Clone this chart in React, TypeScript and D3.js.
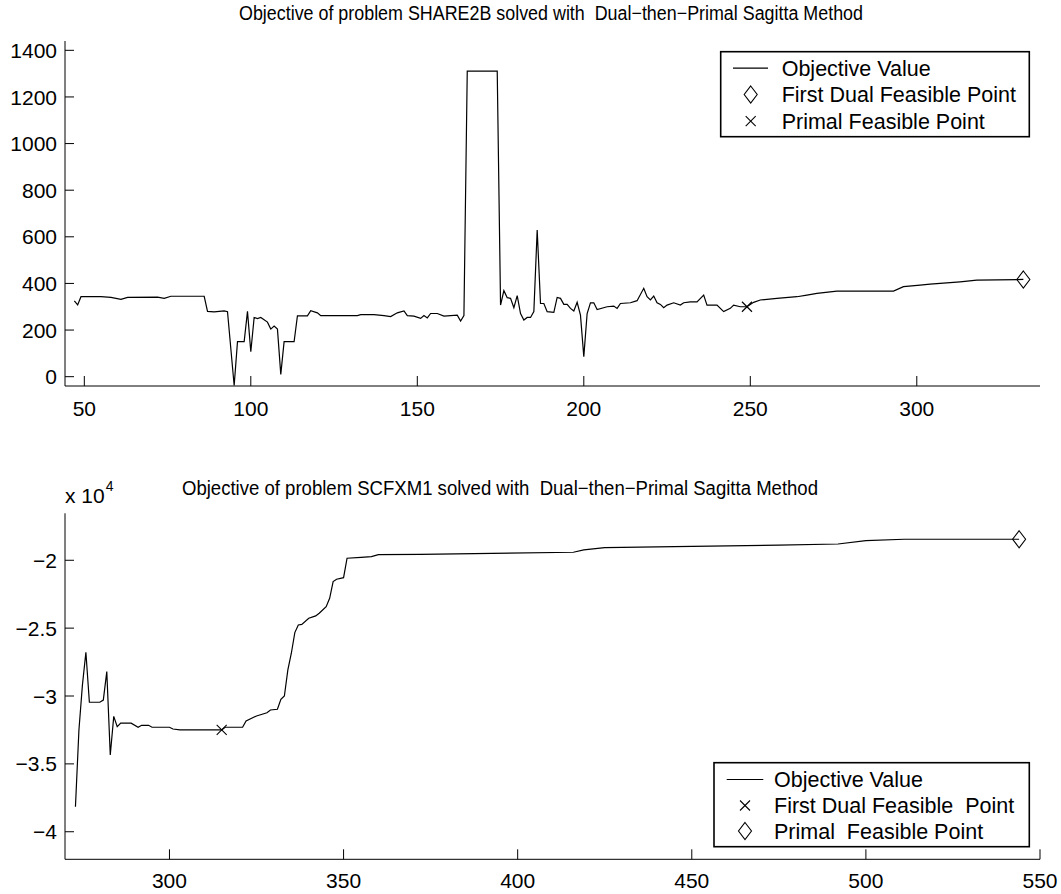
import React from 'react';
import * as d3 from 'd3';

const W = 1061;
const H = 894;
const FONT = '"Liberation Sans", Arial, Helvetica, sans-serif';

// ---------- Top chart: SHARE2B ----------
const topTitle = 'Objective of problem SHARE2B solved with  Dual\u2212then\u2212Primal Sagitta Method';
const topIter = [47,48,49,55,58,61,63,72,74,76,86,87,89,92,93,95,96,98,99,100,101,102,103,105,106,107,108,109,110,113,114,117,118,120,121,132,133,137,140,142,144,146,147,149,151,152,153,154,156,158,162,163,164,165,174,175,176,177,178,179,180,181,182,183,184,185,186,187,188,189,191,192,193,194,195,196,197,198,199,200,201,202,203,204,207,209,210,211,214,216,218,219,220,221,222,223,224,225,227,229,230,232,234,236,237,240,242,244,245,247,249,251,253,258,264,267,270,276,293,296,301,304,313,318,332];
const topValue = [325,308,343,343,340,332,340,341,336,345,345,280,278,282,279,-38,150,150,280,107,254,249,254,234,204,217,204,10,150,150,261,261,283,274,262,262,266,266,262,258,274,282,262,260,250,262,252,271,271,260,264,239,262,1311,1311,307,369,339,336,296,348,271,243,254,254,279,629,314,314,279,276,340,336,310,310,293,282,319,264,86,271,317,317,288,300,303,293,314,317,326,379,343,329,346,317,310,296,307,317,307,317,321,321,350,307,307,279,293,307,300,300,319,329,336,343,350,357,367,367,386,393,397,407,414,417];
const topXTicks = [50, 100, 150, 200, 250, 300];
const topYTicks = [0, 200, 400, 600, 800, 1000, 1200, 1400];
const topXDomain = [44.2, 337];
const topYDomain = [-40, 1440];
const topDualPoint = [332, 417];
const topPrimalPoint = [249, 300];
const topLegendLabels = ['Objective Value', 'First Dual Feasible Point', 'Primal Feasible Point'];

// ---------- Bottom chart: SCFXM1 ----------
const botTitle = 'Objective of problem SCFXM1 solved with  Dual\u2212then\u2212Primal Sagitta Method';
const botIter = [273,274,275,276,277,280,281,282,283,284,285,286,289,291,292,294,295,300,301,303,309,315,316,321,322,325,328,329,331,332,333,334,335,336,337,338,340,342,343,345,346,347,348,350,351,355,358,360,372,416,419,425,445,475,492,500,511,544];
const botValue = [-38160,-32500,-29200,-26780,-30460,-30460,-30300,-28200,-34350,-31500,-32260,-32000,-32000,-32300,-32160,-32160,-32300,-32300,-32430,-32490,-32500,-32500,-32300,-32300,-31840,-31470,-31230,-31030,-30980,-30250,-30000,-28080,-26850,-25330,-24770,-24720,-24270,-24100,-23900,-23420,-22800,-21570,-21400,-21280,-19850,-19780,-19730,-19590,-19560,-19410,-19240,-19070,-19000,-18890,-18800,-18560,-18450,-18450];
const botXTicks = [300, 350, 400, 450, 500, 550];
const botYTicks = [-40000, -35000, -30000, -25000, -20000];
const botXDomain = [270, 550];
const botYDomain = [-42030, -16540];
const botDualPoint = [315, -32500];
const botPrimalPoint = [544, -18450];
const botLegendLabels = ['Objective Value', 'First Dual Feasible  Point', 'Primal  Feasible Point'];

const diamondPath = 'M0,-8.5L6.5,0L0,8.5L-6.5,0Z';

function Diamond({ x, y }: { x: number; y: number }) {
  return <path d={diamondPath} transform={`translate(${x},${y})`} fill="none" stroke="#000" strokeWidth={1.1} />;
}
function XMark({ x, y }: { x: number; y: number }) {
  const s = 5;
  return (
    <g stroke="#000" strokeWidth={1.1}>
      <line x1={x - s} y1={y - s} x2={x + s} y2={y + s} />
      <line x1={x - s} y1={y + s} x2={x + s} y2={y - s} />
    </g>
  );
}

function fmtBot(v: number) {
  return String(v / 1e4).replace('-', '\u2212');
}

type PanelProps = {
  title: string;
  titleX: number;
  titleLen: number;
  iters: number[];
  values: number[];
  xDomain: number[];
  yDomain: number[];
  xTicks: number[];
  yTicks: number[];
  yFmt: (v: number) => string;
  top: number;
  bottom: number;
  titleY: number;
  xLabelY: number;
  children?: React.ReactNode;
  renderMarkers: (x: d3.ScaleLinear<number, number>, y: d3.ScaleLinear<number, number>) => React.ReactNode;
};

const LEFT = 65;
const RIGHT = 1040;

function Panel(p: PanelProps) {
  const x = d3.scaleLinear().domain(p.xDomain).range([LEFT, RIGHT]);
  const y = d3.scaleLinear().domain(p.yDomain).range([p.bottom, p.top]);
  const pts: [number, number][] = p.iters.map((it, i) => [it, p.values[i]]);
  const line = d3.line<[number, number]>().x(d => x(d[0])).y(d => y(d[1]));
  const clipId = `clip${Math.round(p.top)}`;
  return (
    <g>
      <defs>
        <clipPath id={clipId}>
          <rect x={LEFT} y={p.top} width={RIGHT - LEFT} height={p.bottom - p.top} />
        </clipPath>
      </defs>
      <text x={p.titleX - p.titleLen / 2} y={p.titleY} fontSize={20} textLength={p.titleLen} lengthAdjust="spacingAndGlyphs" style={{ whiteSpace: 'pre' }}>{p.title}</text>
      <path d={line(pts) || ''} fill="none" stroke="#000" strokeWidth={1.2} clipPath={`url(#${clipId})`} strokeLinejoin="miter" />
      <line x1={LEFT} y1={p.top} x2={LEFT} y2={p.bottom} stroke="#000" strokeWidth={1} />
      <line x1={LEFT} y1={p.bottom} x2={RIGHT} y2={p.bottom} stroke="#000" strokeWidth={1} />
      {p.xTicks.map(t => (
        <g key={`x${t}`}>
          <line x1={x(t)} x2={x(t)} y1={p.bottom} y2={p.bottom - 10} stroke="#000" strokeWidth={1} />
          <text x={x(t)} y={p.xLabelY} textAnchor="middle" fontSize={21}>{t}</text>
        </g>
      ))}
      {p.yTicks.map(t => (
        <g key={`y${t}`}>
          <line x1={LEFT} x2={LEFT + 9} y1={y(t)} y2={y(t)} stroke="#000" strokeWidth={1} />
          <text x={57} y={y(t)} dy="0.36em" textAnchor="end" fontSize={21}>{p.yFmt(t)}</text>
        </g>
      ))}
      {p.renderMarkers(x, y)}
      {p.children}
    </g>
  );
}

function Legend({ x0, y0, x1, y1, rowY, lineX, markX, textX, labels, markers }: {
  x0: number; y0: number; x1: number; y1: number; rowY: number[]; lineX: number[]; markX: number; textX: number; labels: string[]; markers: string[];
}) {
  return (
    <g>
      <rect x={x0} y={y0} width={x1 - x0} height={y1 - y0} fill="#fff" stroke="#000" strokeWidth={1.6} />
      <line x1={lineX[0]} x2={lineX[1]} y1={rowY[0]} y2={rowY[0]} stroke="#000" strokeWidth={1.2} />
      {markers.map((m, i) => (
        <g key={i}>{m === 'diamond' ? <Diamond x={markX} y={rowY[i + 1]} /> : <XMark x={markX} y={rowY[i + 1]} />}</g>
      ))}
      {labels.map((l, i) => (
        <text key={l} x={textX} y={rowY[i]} dy="0.36em" fontSize={21.5} style={{ whiteSpace: 'pre' }}>{l}</text>
      ))}
    </g>
  );
}

export default function App() {
  return (
    <svg width={W} height={H} viewBox={`0 0 ${W} ${H}`} style={{ position: 'absolute', left: 0, top: 0, background: '#fff' }} fontFamily={FONT}>
      <rect width={W} height={H} fill="#fff" />
      <Panel
        title={topTitle}
        titleX={551}
        titleLen={624}
        iters={topIter}
        values={topValue}
        xDomain={topXDomain}
        yDomain={topYDomain}
        xTicks={topXTicks}
        yTicks={topYTicks}
        yFmt={v => String(v)}
        top={41}
        bottom={386}
        titleY={20}
        xLabelY={416}
        renderMarkers={(x, y) => (
          <g>
            <Diamond x={x(topDualPoint[0])} y={y(topDualPoint[1])} />
            <XMark x={x(topPrimalPoint[0])} y={y(topPrimalPoint[1])} />
          </g>
        )}
      >
        <Legend x0={720.7} y0={51.7} x1={1029.3} y1={136.7} rowY={[68.2, 94.5, 121.2]} lineX={[733, 768]} markX={750.7} textX={781.7} labels={topLegendLabels} markers={['diamond', 'x']} />
      </Panel>
      <Panel
        title={botTitle}
        titleX={500}
        titleLen={636}
        iters={botIter}
        values={botValue}
        xDomain={botXDomain}
        yDomain={botYDomain}
        xTicks={botXTicks}
        yTicks={botYTicks}
        yFmt={fmtBot}
        top={513.3}
        bottom={859.3}
        titleY={495}
        xLabelY={888}
        renderMarkers={(x, y) => (
          <g>
            <XMark x={x(botDualPoint[0])} y={y(botDualPoint[1])} />
            <Diamond x={x(botPrimalPoint[0])} y={y(botPrimalPoint[1])} />
          </g>
        )}
      >
        <text x={65} y={503} fontSize={21}>x 10<tspan dx={1} dy={-12} fontSize={14}>4</tspan></text>
        <Legend x0={714} y0={762.7} x1={1029.3} y1={846.7} rowY={[779.5, 805.5, 831]} lineX={[726.7, 763.3]} markX={745} textX={774} labels={botLegendLabels} markers={['x', 'diamond']} />
      </Panel>
    </svg>
  );
}
